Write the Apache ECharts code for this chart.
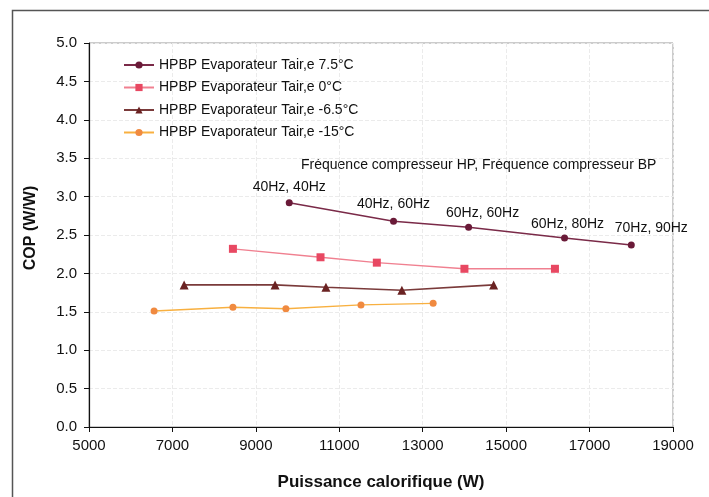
<!DOCTYPE html>
<html>
<head>
<meta charset="utf-8">
<script src="https://cdn.jsdelivr.net/npm/echarts@6/dist/echarts.min.js"></script>
<style>
html,body{margin:0;padding:0;background:#fff;}
#chart{width:709px;height:497px;}
</style>
</head>
<body>
<div id="chart"></div>
<script>
// Data
const seriesNames = [
  'HPBP Evaporateur Tair,e 7.5°C',
  'HPBP Evaporateur Tair,e 0°C',
  'HPBP Evaporateur Tair,e -6.5°C',
  'HPBP Evaporateur Tair,e -15°C'
];
const s1x = [9800, 12300, 14100, 16400, 18000];
const s1y = [2.92, 2.68, 2.60, 2.46, 2.37];
const s2x = [8450, 10550, 11900, 14000, 16170];
const s2y = [2.32, 2.21, 2.14, 2.06, 2.06];
const s3x = [7280, 9460, 10680, 12500, 14700];
const s3y = [1.85, 1.85, 1.82, 1.78, 1.85];
const s4x = [6560, 8450, 9720, 11520, 13250];
const s4y = [1.51, 1.56, 1.54, 1.59, 1.61];
const freqLabels = ['40Hz, 40Hz', '40Hz, 60Hz', '60Hz, 60Hz', '60Hz, 80Hz', '70Hz, 90Hz'];
const annotationText = 'Fréquence compresseur HP, Fréquence compresseur BP';
const xTitle = 'Puissance calorifique (W)';
const yTitle = 'COP (W/W)';

// Label placement (style, not data)
const labelOffsets = [[0, 0], [0, -2], [14, 1], [3, 2], [20, -1]];

const FONT = '"Liberation Sans", Arial, sans-serif';
const chart = echarts.init(document.getElementById('chart'));

function pts(xs, ys) { return xs.map((x, i) => [x, ys[i]]); }

const s1data = s1x.map((x, i) => ({
  value: [x, s1y[i]],
  label: { offset: labelOffsets[i], formatter: freqLabels[i] }
}));

const option = {
  backgroundColor: '#fff',
  animation: false,
  textStyle: { fontFamily: FONT },
  grid: { left: 89, right: 36, top: 43, bottom: 70, show: true, borderColor: '#999', borderWidth: 1 },
  graphic: [
    { type: 'rect', left: 10, top: 8, shape: { x: 0, y: 0, width: 800, height: 600 },
      style: { fill: 'none', stroke: '#555', lineWidth: 1.5 }, silent: true, z: -1 },
    { type: 'text', left: 301, top: 158,
      style: { text: annotationText, font: '14px ' + FONT, fill: '#111' } }
  ],
  legend: {
    orient: 'vertical', left: 118, top: 53,
    itemWidth: 30, itemHeight: 9, itemGap: 8.5,
    textStyle: { fontSize: 14, color: '#111', fontFamily: FONT },
    data: seriesNames
  },
  xAxis: {
    type: 'value', min: 5000, max: 19000, interval: 2000,
    name: xTitle, nameLocation: 'middle', nameGap: 47,
    nameTextStyle: { fontSize: 17, fontWeight: 'bold', color: '#111', fontFamily: FONT },
    axisLine: { lineStyle: { color: '#111', width: 1.2 } },
    axisTick: { show: true, inside: false, length: 5, lineStyle: { color: '#111' } },
    axisLabel: { fontSize: 15, color: '#111', margin: 11, fontFamily: FONT,
      formatter: v => String(v) },
    splitLine: { show: true, lineStyle: { color: '#ebebeb', type: 'dashed', width: 1 } }
  },
  yAxis: {
    type: 'value', min: 0, max: 5, interval: 0.5,
    name: yTitle, nameLocation: 'middle', nameGap: 50, nameRotate: 90,
    nameTextStyle: { fontSize: 16, fontWeight: 'bold', color: '#111', fontFamily: FONT,
      padding: [0, 0, 0, 14] },
    axisLine: { show: true, lineStyle: { color: '#111', width: 1.2 } },
    axisTick: { show: true, inside: false, length: 5, lineStyle: { color: '#111' } },
    axisLabel: { fontSize: 15, color: '#111', margin: 12, fontFamily: FONT,
      formatter: v => v.toFixed(1) },
    splitLine: { show: true, lineStyle: { color: '#ebebeb', type: 'dashed', width: 1 } }
  },
  series: [
    {
      name: seriesNames[0], type: 'line', data: s1data,
      symbol: 'circle', symbolSize: 7,
      itemStyle: { color: '#6a1a38' },
      lineStyle: { color: '#7a2a48', width: 1.6 },
      label: { show: true, position: 'top', distance: 5, fontSize: 14, color: '#111', fontFamily: FONT },
      z: 4
    },
    {
      name: seriesNames[1], type: 'line', data: pts(s2x, s2y),
      symbol: 'rect', symbolSize: 8,
      itemStyle: { color: '#e84862' },
      lineStyle: { color: '#f08090', width: 1.4 },
      z: 3
    },
    {
      name: seriesNames[2], type: 'line', data: pts(s3x, s3y),
      symbol: 'triangle', symbolSize: 9,
      itemStyle: { color: '#6a2222' },
      lineStyle: { color: '#7a3a3a', width: 1.6 },
      z: 3
    },
    {
      name: seriesNames[3], type: 'line', data: pts(s4x, s4y),
      symbol: 'circle', symbolSize: 7,
      itemStyle: { color: '#f08a40' },
      lineStyle: { color: '#f8b040', width: 1.4 },
      z: 3
    }
  ]
};
chart.setOption(option);
</script>
</body>
</html>
